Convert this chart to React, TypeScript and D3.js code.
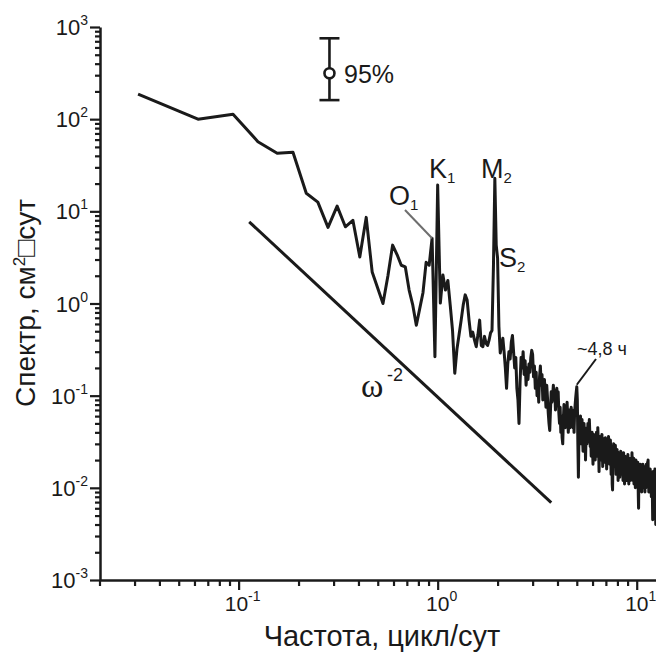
import React, { useEffect, useRef } from 'react'
import { select, scaleLog, axisLeft, axisBottom, line } from 'd3'

// spectral estimates, one value per frequency step of 1/32 cycles per day
const FREQ_STEP = 1 / 32

// k = 1 .. 31
const spectrumLowFreq = [
  187, 100, 113, 57, 42.7, 43.8, 15.7, 12.6, 6.7, 11.4,
  6.8, 8.0, 3.2, 8.6, 2.2, 1.46, 1.0, 2.0, 4.3, 3.4,
  2.6, 2.5, 1.4, 0.96, 0.58, 0.88, 1.31, 2.8, 2.6, 5.1,
  0.265
]

// k = 32 .. 66 (diurnal and semidiurnal band)
const spectrumTidal = [
  19.3, 1.01, 2.04, 1.4, 1.78, 0.96, 0.51, 0.175, 0.32, 0.46,
  0.66, 0.96, 1.24, 1.09, 0.66, 0.44, 0.49, 0.40, 0.34, 0.46,
  0.66, 0.35, 0.34, 0.44, 0.37, 0.35, 0.40, 0.48, 0.51, 2.5,
  22.8, 4.3, 3.1, 0.56, 0.29
]

// k = 67 .. 400
const spectrumHighFreq = [
  0.35, 0.42, 0.30, 0.20, 0.12, 0.22, 0.30, 0.25, 0.38, 0.45,
  0.30, 0.20, 0.26, 0.12, 0.09, 0.05, 0.14, 0.26, 0.20, 0.30,
  0.17, 0.24, 0.13, 0.20, 0.15, 0.22, 0.18, 0.26, 0.31, 0.28,
  0.16, 0.21, 0.12, 0.18, 0.10, 0.14, 0.085, 0.16, 0.21, 0.13,
  0.17, 0.09, 0.12, 0.15, 0.11, 0.075, 0.13, 0.095, 0.065, 0.05,
  0.042, 0.07, 0.11, 0.085, 0.10, 0.13, 0.09, 0.115, 0.07, 0.095,
  0.12, 0.08, 0.11, 0.065, 0.05, 0.075, 0.04, 0.06, 0.035, 0.03,
  0.055, 0.08, 0.06, 0.045, 0.07, 0.05, 0.085, 0.06, 0.04, 0.055,
  0.07, 0.045, 0.06, 0.075, 0.05, 0.07, 0.045, 0.06, 0.04, 0.065,
  0.08, 0.095, 0.11, 0.125, 0.09, 0.03, 0.013, 0.035, 0.05, 0.04,
  0.06, 0.03, 0.045, 0.055, 0.035, 0.025, 0.04, 0.05, 0.03, 0.045,
  0.02, 0.035, 0.042, 0.03, 0.038, 0.05, 0.032, 0.045, 0.055, 0.04,
  0.028, 0.036, 0.022, 0.034, 0.04, 0.026, 0.018, 0.03, 0.038, 0.025,
  0.032, 0.02, 0.035, 0.028, 0.04, 0.03, 0.022, 0.045, 0.033, 0.026,
  0.015, 0.028, 0.036, 0.024, 0.032, 0.02, 0.027, 0.038, 0.025, 0.017,
  0.03, 0.022, 0.034, 0.026, 0.019, 0.028, 0.035, 0.024, 0.03, 0.016,
  0.025, 0.032, 0.021, 0.027, 0.036, 0.022, 0.03, 0.018, 0.026, 0.033,
  0.024, 0.014, 0.02, 0.028, 0.011, 0.0095, 0.018, 0.025, 0.03, 0.02,
  0.026, 0.017, 0.023, 0.029, 0.02, 0.014, 0.022, 0.018, 0.026, 0.015,
  0.021, 0.012, 0.019, 0.024, 0.016, 0.02, 0.013, 0.022, 0.017, 0.025,
  0.014, 0.019, 0.023, 0.015, 0.018, 0.021, 0.012, 0.02, 0.024, 0.016,
  0.019, 0.011, 0.017, 0.022, 0.014, 0.018, 0.021, 0.012, 0.016, 0.02,
  0.013, 0.017, 0.023, 0.015, 0.019, 0.011, 0.016, 0.02, 0.014, 0.018,
  0.012, 0.021, 0.015, 0.017, 0.02, 0.013, 0.024, 0.016, 0.019, 0.012,
  0.017, 0.015, 0.021, 0.011, 0.016, 0.019, 0.013, 0.018, 0.01, 0.015,
  0.02, 0.012, 0.016, 0.014, 0.018, 0.011, 0.015, 0.019, 0.012, 0.008,
  0.006, 0.013, 0.017, 0.014, 0.011, 0.016, 0.013, 0.018, 0.01, 0.015,
  0.012, 0.017, 0.009, 0.014, 0.016, 0.011, 0.014, 0.018, 0.012, 0.015,
  0.01, 0.013, 0.017, 0.011, 0.014, 0.009, 0.016, 0.012, 0.015, 0.01,
  0.013, 0.018, 0.011, 0.014, 0.012, 0.016, 0.019, 0.013, 0.02, 0.011,
  0.015, 0.009, 0.013, 0.016, 0.01, 0.014, 0.012, 0.016, 0.009, 0.013,
  0.011, 0.015, 0.008, 0.012, 0.014, 0.01, 0.013, 0.007, 0.0045, 0.009,
  0.012, 0.015, 0.01, 0.013, 0.011, 0.014, 0.009, 0.012, 0.016, 0.01,
  0.013, 0.006, 0.004, 0.009
]

// omega^-2 reference slope: [frequency, spectrum]
const slopeLine = [[0.113, 7.7], [3.72, 0.0069]]

// 95% confidence interval marker
const ciFreq = 0.286
const ciValues = { low: 161, center: 315, high: 754 }

const xMajorTicks = [0.1, 1, 10]
const xTickExponents = ['-1', '0', '1']
const yMajorTicks = [1e-3, 1e-2, 1e-1, 1, 10, 100, 1000]
const yTickExponents = ['-3', '-2', '-1', '0', '1', '2', '3']

const FONT = '"Liberation Sans", Arial, sans-serif'
const INK = '#1a1a1a'

const minorTicks = (from, to) => {
  const ticks = []
  for (let d = -4; d <= 3; d++) {
    for (let m = 2; m <= 9; m++) {
      const v = m * Math.pow(10, d)
      if (v >= from * 0.999 && v <= to) ticks.push(v)
    }
  }
  return ticks
}

const App = () => {
  const svgRef = useRef(null)

  useEffect(() => {
    const svg = select(svgRef.current)
    svg.selectAll('*').remove()

    const xScale = scaleLog().domain([0.02, 12.5]).range([99.5, 656])
    const yScale = scaleLog().domain([1e-3, 1e3]).range([580, 27])

    const spectrum = spectrumLowFreq.concat(spectrumTidal, spectrumHighFreq)
      .map((v, i) => [(i + 1) * FREQ_STEP, v])

    // x axis
    const gxMinor = svg.append('g').attr('transform', 'translate(0,580)')
      .call(axisBottom(xScale).tickValues(minorTicks(0.02, 12.5)).tickSize(6).tickSizeOuter(0).tickFormat(() => ''))
    gxMinor.select('.domain').attr('stroke', INK).attr('stroke-width', 2.5)
    const gxMajor = svg.append('g').attr('transform', 'translate(0,580)')
      .call(axisBottom(xScale).tickValues(xMajorTicks).tickSize(10).tickSizeOuter(0).tickFormat(() => ''))
    gxMajor.select('.domain').remove()

    // y axis
    const gyMinor = svg.append('g').attr('transform', 'translate(100,0)')
      .call(axisLeft(yScale).tickValues(minorTicks(1e-3, 999)).tickSize(5).tickSizeOuter(0).tickFormat(() => ''))
    gyMinor.select('.domain').attr('stroke', INK).attr('stroke-width', 2.5)
    const gyMajor = svg.append('g').attr('transform', 'translate(100,0)')
      .call(axisLeft(yScale).tickValues(yMajorTicks).tickSize(10).tickSizeOuter(0).tickFormat(() => ''))
    gyMajor.select('.domain').remove()
    svg.selectAll('.tick line').attr('stroke', INK).attr('stroke-width', 2.2)

    // tick labels with superscript exponents
    xMajorTicks.forEach((t, i) => {
      const txt = svg.append('text')
        .attr('x', xScale(t) + 4).attr('y', 611)
        .attr('text-anchor', 'middle')
        .attr('font-family', FONT).attr('font-size', 21).attr('fill', INK)
      txt.append('tspan').text('10')
      txt.append('tspan').attr('dy', -10).attr('font-size', 14).text(xTickExponents[i])
    })
    yMajorTicks.forEach((t, i) => {
      const txt = svg.append('text')
        .attr('x', 88).attr('y', yScale(t) + 8)
        .attr('text-anchor', 'end')
        .attr('font-family', FONT).attr('font-size', 22).attr('fill', INK)
      txt.append('tspan').text('10')
      txt.append('tspan').attr('dy', -10).attr('font-size', 14).text(yTickExponents[i])
    })

    // axis titles
    svg.append('text')
      .attr('x', 382).attr('y', 646)
      .attr('text-anchor', 'middle')
      .attr('font-family', FONT).attr('font-size', 29).attr('fill', INK)
      .text('Частота, цикл/сут')

    const yTitle = svg.append('text')
      .attr('transform', 'translate(35,303) rotate(-90)')
      .attr('text-anchor', 'middle')
      .attr('font-family', FONT).attr('font-size', 28).attr('fill', INK)
    yTitle.append('tspan').text('Спектр, см')
    yTitle.append('tspan').attr('dy', -10).attr('font-size', 17).text('2')
    yTitle.append('tspan').attr('dy', 10).text('□сут')

    // omega^-2 line
    const lineGen = line().x(d => xScale(d[0])).y(d => yScale(d[1]))
    svg.append('path')
      .attr('d', lineGen(slopeLine))
      .attr('fill', 'none').attr('stroke', INK).attr('stroke-width', 3)

    svg.append('text')
      .attr('x', 361).attr('y', 397)
      .attr('font-family', '"Liberation Serif", "Times New Roman", serif')
      .attr('font-size', 34).attr('fill', INK)
      .text('ω')
    svg.append('text')
      .attr('x', 387).attr('y', 381)
      .attr('font-family', FONT).attr('font-size', 18).attr('fill', INK)
      .text('-2')

    // spectrum
    svg.append('path')
      .attr('d', lineGen(spectrum))
      .attr('fill', 'none').attr('stroke', INK).attr('stroke-width', 3)
      .attr('stroke-linejoin', 'round')

    // confidence interval
    const cx = xScale(ciFreq)
    const ci = svg.append('g').attr('stroke', INK).attr('stroke-width', 2.6)
    ci.append('line').attr('x1', cx).attr('x2', cx).attr('y1', yScale(ciValues.high)).attr('y2', yScale(ciValues.low))
    ci.append('line').attr('x1', cx - 10).attr('x2', cx + 10).attr('y1', yScale(ciValues.high)).attr('y2', yScale(ciValues.high))
    ci.append('line').attr('x1', cx - 10).attr('x2', cx + 10).attr('y1', yScale(ciValues.low)).attr('y2', yScale(ciValues.low))
    ci.append('circle').attr('cx', cx).attr('cy', yScale(ciValues.center)).attr('r', 5).attr('fill', 'white')
    svg.append('text')
      .attr('x', 344).attr('y', 83)
      .attr('font-family', FONT).attr('font-size', 25).attr('fill', INK)
      .text('95%')

    // tidal constituent labels
    const label = (x, y, main, sub) => {
      const t = svg.append('text').attr('x', x).attr('y', y)
        .attr('font-family', FONT).attr('font-size', 27).attr('fill', INK)
      t.append('tspan').text(main)
      t.append('tspan').attr('dy', 5).attr('font-size', 15).text(sub)
    }
    label(429, 178, 'K', '1')
    label(481, 178, 'M', '2')
    label(389, 205, 'O', '1')
    label(499, 267, 'S', '2')

    // O1 leader to its peak
    svg.append('line')
      .attr('x1', 405).attr('y1', 210)
      .attr('x2', xScale(30 * FREQ_STEP)).attr('y2', yScale(spectrumLowFreq[29]))
      .attr('stroke', '#6e6e6e').attr('stroke-width', 2)

    // ~4.8 hour peak
    svg.append('text')
      .attr('x', 577).attr('y', 355)
      .attr('font-family', FONT).attr('font-size', 18).attr('fill', INK)
      .text('~4,8 ч')
    svg.append('line')
      .attr('x1', 596).attr('y1', 359)
      .attr('x2', xScale(160 * FREQ_STEP)).attr('y2', yScale(spectrumHighFreq[160 - 67]) - 2)
      .attr('stroke', INK).attr('stroke-width', 2)
  }, [])

  return <svg ref={svgRef} width={656} height={655} style={{ display: 'block', position: 'absolute', left: 0, top: 0, background: 'white' }} />
}

export default App
